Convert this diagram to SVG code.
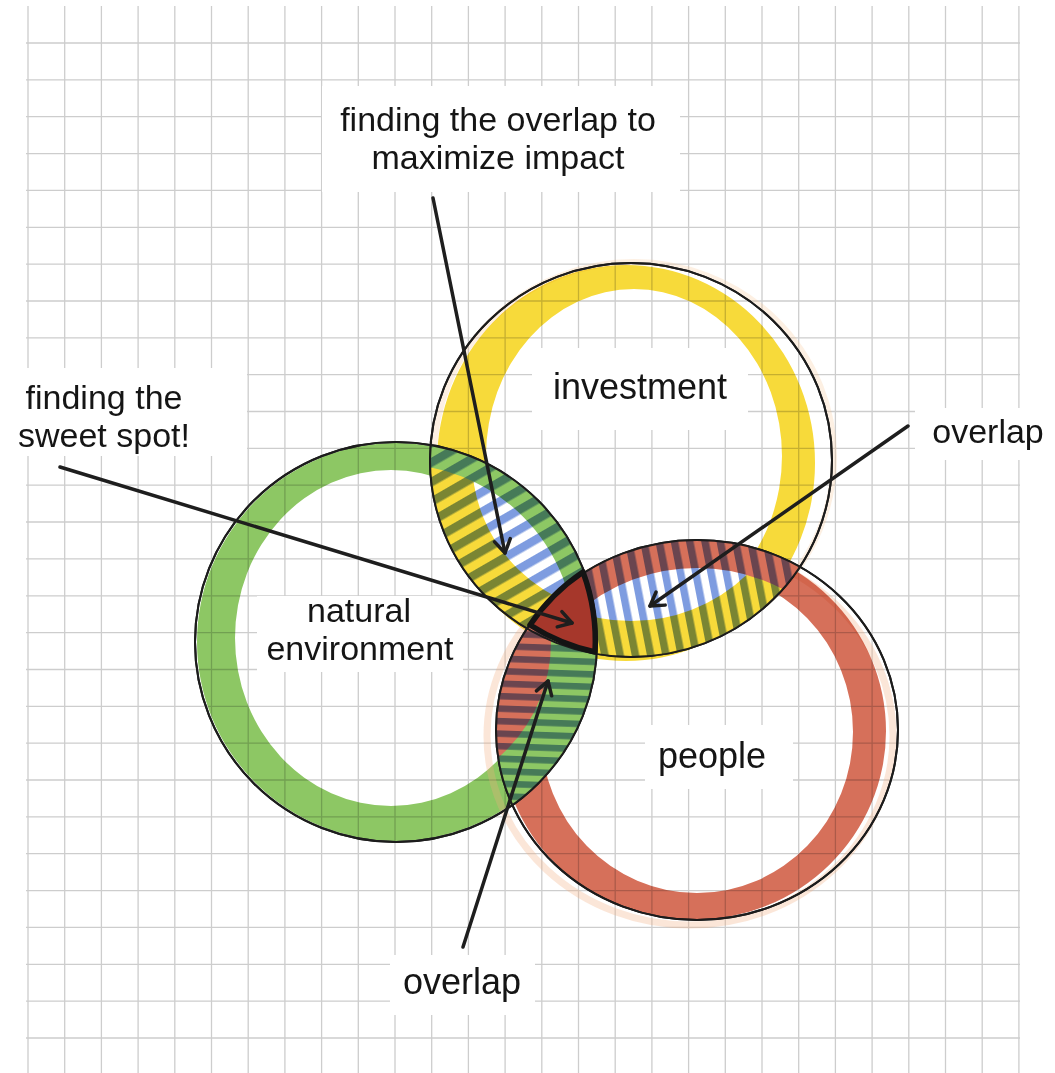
<svg xmlns="http://www.w3.org/2000/svg" width="1055" height="1073" viewBox="0 0 1055 1073">
<style>
.grid{stroke:#cdcdcd;stroke-width:1.3;fill:none}
.box{fill:#ffffff}
.lbl{font-family:"Liberation Sans",Arial,sans-serif;font-size:36px;fill:#151515;text-anchor:middle}
.two{font-size:34px}
.ring{mix-blend-mode:multiply;fill-rule:evenodd}
.outline{fill:none;stroke:#1c1c1c;stroke-width:2}
.stripes{mix-blend-mode:multiply}
.band{fill:none}
.conn{fill:none;stroke:#1e1e1e;stroke-width:3.5;stroke-linecap:round}
</style>
<defs>
<clipPath id="clipY"><ellipse cx="631" cy="460" rx="201" ry="197"/></clipPath>
<clipPath id="clipG"><ellipse cx="396" cy="642" rx="201" ry="200"/></clipPath>
<clipPath id="clipR"><ellipse cx="697" cy="730" rx="201" ry="190"/></clipPath>
<pattern id="stYG" width="17" height="17" patternUnits="userSpaceOnUse" patternTransform="rotate(60)"><rect width="8.5" height="17" fill="#7e9ce0"/></pattern>
<pattern id="stYR" width="15" height="15" patternUnits="userSpaceOnUse" patternTransform="rotate(-11)"><rect width="7.5" height="15" fill="#7e9ce0"/></pattern>
<pattern id="stGR" width="12.5" height="12.5" patternUnits="userSpaceOnUse" patternTransform="rotate(92)"><rect width="6.5" height="12.5" fill="#7e9ce0"/></pattern>
<marker id="arr" markerWidth="30" markerHeight="30" refX="0" refY="0" orient="auto" markerUnits="userSpaceOnUse" overflow="visible"><path d="M-13,-8 L0,0 L-13,8" fill="none" stroke="#1e1e1e" stroke-width="3.5" stroke-linecap="round" stroke-linejoin="round"/></marker>
</defs>
<rect width="1055" height="1073" fill="#ffffff"/>
<g id="grid">
<path class="grid" d="M28 6V1073M64.7 6V1073M101.4 6V1073M138.1 6V1073M174.8 6V1073M211.5 6V1073M248.2 6V1073M284.9 6V1073M321.6 6V1073M358.3 6V1073M395 6V1073M431.7 6V1073M468.4 6V1073M505.1 6V1073M541.8 6V1073M578.5 6V1073M615.2 6V1073M651.9 6V1073M688.6 6V1073M725.3 6V1073M762 6V1073M798.7 6V1073M835.4 6V1073M872.1 6V1073M908.8 6V1073M945.5 6V1073M982.2 6V1073M1018.9 6V1073"/>
<path class="grid" d="M26 43H1020M26 79.9H1020M26 116.7H1020M26 153.6H1020M26 190.4H1020M26 227.3H1020M26 264.1H1020M26 301H1020M26 337.8H1020M26 374.7H1020M26 411.5H1020M26 448.4H1020M26 485.2H1020M26 522H1020M26 558.9H1020M26 595.8H1020M26 632.6H1020M26 669.5H1020M26 706.3H1020M26 743.2H1020M26 780H1020M26 816.9H1020M26 853.7H1020M26 890.6H1020M26 927.4H1020M26 964.3H1020M26 1001.1H1020M26 1038H1020"/>
</g>
<g id="label-boxes">
<rect class="box" x="322" y="86" width="358" height="106"/>
<rect class="box" x="0" y="368" width="247" height="88"/>
<rect class="box" x="532" y="348" width="216" height="82"/>
<rect class="box" x="257" y="596" width="206" height="76"/>
<rect class="box" x="645" y="725" width="148" height="64"/>
<rect class="box" x="915" y="408" width="140" height="52"/>
<rect class="box" x="390" y="955" width="145" height="60"/>
</g>
<g id="node-investment">
<ellipse cx="634" cy="457" rx="200" ry="195" fill="none" stroke="#f6c48f" stroke-width="6" opacity="0.25"/>
<path class="ring" fill="#f7da3a" d="M437,463 a189,198 0 1 0 378,0 a189,198 0 1 0 -378,0 Z M486,456 a148,167 0 1 0 296,0 a148,167 0 1 0 -296,0 Z"/>
<ellipse class="outline" cx="631" cy="460" rx="201" ry="197"/>
<text class="lbl" x="640" y="399">investment</text>
</g>
<g id="node-environment">
<path class="ring" fill="#8dc764" d="M197,642 a199,199 0 1 0 398,0 a199,199 0 1 0 -398,0 Z M235,638 a156,168 0 1 0 312,0 a156,168 0 1 0 -312,0 Z"/>
<ellipse class="outline" cx="396" cy="642" rx="201" ry="200"/>
<text class="lbl two" x="359" y="622">natural<tspan x="360" dy="38">environment</tspan></text>
</g>
<g id="node-people">
<ellipse cx="690" cy="736" rx="203" ry="189" fill="none" stroke="#f2ab7e" stroke-width="7" opacity="0.3"/>
<path class="ring" fill="#d6705a" d="M500,731 a193,189 0 1 0 386,0 a193,189 0 1 0 -386,0 Z M541,732 a156,161 0 1 0 312,0 a156,161 0 1 0 -312,0 Z"/>
<ellipse class="outline" cx="697" cy="730" rx="201" ry="190"/>
<text class="lbl" x="712" y="768">people</text>
</g>
<g id="overlap-investment-environment">
<g clip-path="url(#clipY)"><g clip-path="url(#clipG)">
<rect x="400" y="420" width="220" height="260" fill="#ffffff"/>
<ellipse class="band" cx="631" cy="460" rx="180" ry="176" stroke="#f7da3a" stroke-width="42"/>
<ellipse class="band" cx="396" cy="642" rx="190" ry="189" stroke="#8dc764" stroke-width="22"/>
<rect class="stripes" x="400" y="420" width="220" height="260" fill="url(#stYG)"/>
</g></g>
</g>
<g id="overlap-investment-people">
<g clip-path="url(#clipY)"><g clip-path="url(#clipR)">
<rect x="500" y="520" width="340" height="160" fill="#ffffff"/>
<ellipse class="band" cx="631" cy="460" rx="183" ry="179" stroke="#f7da3a" stroke-width="36"/>
<ellipse class="band" cx="697" cy="730" rx="187" ry="176" stroke="#d6705a" stroke-width="28"/>
<rect class="stripes" x="500" y="520" width="340" height="160" fill="url(#stYR)"/>
</g></g>
</g>
<g id="overlap-environment-people">
<g clip-path="url(#clipG)"><g clip-path="url(#clipR)">
<rect x="480" y="560" width="140" height="300" fill="#ffffff"/>
<ellipse class="band" cx="697" cy="730" rx="178" ry="167" stroke="#d6705a" stroke-width="46"/>
<ellipse class="band" cx="396" cy="642" rx="178" ry="177" stroke="#8dc764" stroke-width="46"/>
<rect class="stripes" x="480" y="560" width="140" height="300" fill="url(#stGR)"/>
</g></g>
</g>
<g id="outlines-top">
<ellipse class="outline" cx="631" cy="460" rx="201" ry="197"/>
<ellipse class="outline" cx="396" cy="642" rx="201" ry="200"/>
<ellipse class="outline" cx="697" cy="730" rx="201" ry="190"/>
</g>
<g id="sweet-spot">
<path d="M530,625 A201,190 0 0 1 583,572 A201,200 0 0 1 595,652 A201,197 0 0 1 530,625 Z" fill="#a6372b" stroke="#141414" stroke-width="5.5" stroke-linejoin="round"/>
</g>
<g id="callout-top">
<text class="lbl two" x="498" y="131">finding the overlap to<tspan x="498" dy="38">maximize impact</tspan></text>
</g>
<g id="callout-sweet-spot">
<text class="lbl two" x="104" y="409">finding the<tspan x="104" dy="38">sweet spot!</tspan></text>
</g>
<g id="callout-overlap-right">
<text class="lbl" x="988" y="443" style="font-size:34px">overlap</text>
</g>
<g id="callout-overlap-bottom">
<text class="lbl" x="462" y="994">overlap</text>
</g>
<g id="connectors">
<line class="conn" x1="433" y1="198" x2="505" y2="553" marker-end="url(#arr)"/>
<line class="conn" x1="60" y1="467" x2="572" y2="623" marker-end="url(#arr)"/>
<line class="conn" x1="908" y1="426" x2="650" y2="606" marker-end="url(#arr)"/>
<line class="conn" x1="463" y1="947" x2="548" y2="681" marker-end="url(#arr)"/>
</g>
</svg>
